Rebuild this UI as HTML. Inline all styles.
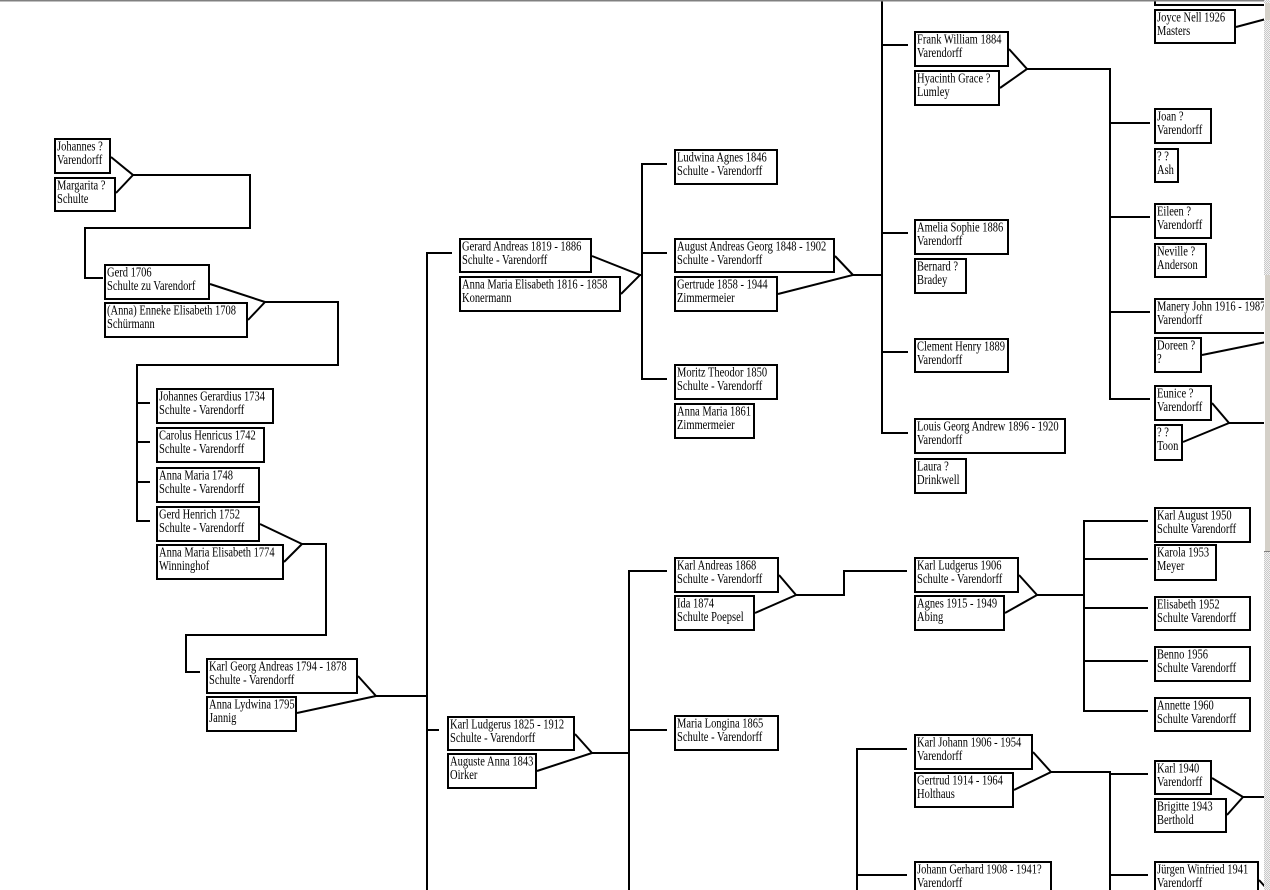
<!DOCTYPE html>
<html>
<head>
<meta charset="utf-8">
<style>
html,body{margin:0;padding:0;background:#fff;overflow:hidden;width:1270px;height:890px;}
svg{display:block;}
text{font-family:"Liberation Serif","DejaVu Serif",serif;font-size:14px;fill:#000;}
</style>
</head>
<body>
<svg width="1270" height="890" viewBox="0 0 1270 890" xmlns="http://www.w3.org/2000/svg">
<rect x="0" y="0" width="1270" height="890" fill="#fff"/>

<!-- connectors -->
<g fill="none" stroke="#000" stroke-width="2">
<path d="M111,157 L133,175 L116,193 M133,175 H250 V228 H85 V278 H103"/>
<path d="M210,284 L265,302 L248,320 M265,302 H338 V365 H136 M137,364 V522 M137,403 H150 M137,442 H150 M137,482 H150 M137,521 H150"/>
<path d="M260,524 L302,544 L284,562 M302,544 H326 V635 H186 V672 H200"/>
<path d="M358,676 L376,696 L297,713 M376,696 H427 M427,252 V890 M427,253 H452 M427,730 H439"/>
<path d="M592,256 L640,275 L621,294 M640,275 H642 M642,163 V380 M642,164 H667 M642,253 H667 M642,379 H667"/>
<path d="M575,734 L592,753 L537,771 M592,753 H629 M629,570 V890 M629,571 H667 M629,730 H667"/>
<path d="M835,256 L853,275 L778,294 M853,275 H882 M882,0 V434 M882,45 H908 M882,233 H908 M882,352 H908 M882,433 H908"/>
<path d="M779,575 L796,595 L755,613 M796,595 H844 V571 H907"/>
<path d="M1009,49 L1027,69 L1000,88 M1027,69 H1110 M1110,68 V400 M1110,123 H1150 M1110,217 H1150 M1110,312 H1150 M1110,399 H1150"/>
<path d="M1019,575 L1037,595 L1005,613 M1037,595 H1084 M1084,520 V712 M1084,521 H1148 M1084,559 H1148 M1084,608 H1148 M1084,661 H1148 M1084,711 H1148"/>
<path d="M1033,752 L1051,772 L1014,790 M1051,772 H1110 M1110,771 V890 M1110,774 H1148 M1110,875 H1148"/>
<path d="M857,748 V890 M857,749 H907 M857,875 H907"/>
<path d="M1212,403 L1229,423 L1183,442 M1229,423 H1266"/>
<path d="M1212,778 L1243,797 L1227,815 M1243,797 H1266"/>
<path d="M1236,27 L1266,19 M1202,355 L1266,342 M1259,880 L1268,890"/>
</g>

<!-- boxes -->
<g fill="#fff" stroke="#000" stroke-width="2">
<rect x="55" y="139" width="55" height="34"/>
<rect x="55" y="178" width="60" height="33"/>
<rect x="105" y="265" width="104" height="34"/>
<rect x="105" y="303" width="142" height="34"/>
<rect x="157" y="389" width="116" height="34"/>
<rect x="157" y="428" width="107" height="34"/>
<rect x="157" y="468" width="102" height="34"/>
<rect x="157" y="507" width="102" height="34"/>
<rect x="157" y="545" width="126" height="34"/>
<rect x="207" y="659" width="150" height="34"/>
<rect x="207" y="697" width="89" height="34"/>
<rect x="460" y="239" width="131" height="33"/>
<rect x="460" y="277" width="160" height="34"/>
<rect x="448" y="717" width="126" height="33"/>
<rect x="448" y="754" width="88" height="34"/>
<rect x="675" y="150" width="102" height="34"/>
<rect x="675" y="239" width="159" height="33"/>
<rect x="675" y="277" width="102" height="34"/>
<rect x="675" y="365" width="102" height="34"/>
<rect x="675" y="404" width="79" height="34"/>
<rect x="675" y="558" width="103" height="34"/>
<rect x="675" y="596" width="79" height="34"/>
<rect x="675" y="716" width="103" height="34"/>
<rect x="915" y="32" width="93" height="34"/>
<rect x="915" y="71" width="84" height="34"/>
<rect x="915" y="220" width="93" height="34"/>
<rect x="915" y="259" width="51" height="34"/>
<rect x="915" y="339" width="93" height="33"/>
<rect x="915" y="419" width="150" height="34"/>
<rect x="915" y="459" width="51" height="34"/>
<rect x="915" y="558" width="103" height="34"/>
<rect x="915" y="596" width="89" height="34"/>
<rect x="915" y="735" width="117" height="34"/>
<rect x="915" y="773" width="98" height="34"/>
<rect x="915" y="862" width="136" height="40"/>
<rect x="1155" y="-40" width="111" height="45"/>
<rect x="1155" y="10" width="80" height="33"/>
<rect x="1155" y="109" width="56" height="34"/>
<rect x="1155" y="149" width="23" height="33"/>
<rect x="1155" y="204" width="56" height="34"/>
<rect x="1155" y="244" width="51" height="33"/>
<rect x="1155" y="299" width="120" height="34"/>
<rect x="1155" y="338" width="46" height="34"/>
<rect x="1155" y="386" width="56" height="34"/>
<rect x="1155" y="425" width="27" height="35"/>
<rect x="1155" y="508" width="95" height="34"/>
<rect x="1155" y="545" width="61" height="35"/>
<rect x="1155" y="597" width="95" height="33"/>
<rect x="1155" y="647" width="95" height="34"/>
<rect x="1155" y="698" width="95" height="33"/>
<rect x="1155" y="761" width="56" height="33"/>
<rect x="1155" y="799" width="71" height="33"/>
<rect x="1155" y="862" width="103" height="40"/>
</g>

<!-- labels -->
<g>
<text transform="translate(57,150.5) scale(.75,1)">Johannes ?</text>
<text transform="translate(57,164) scale(.75,1)">Varendorff</text>
<text transform="translate(57,189.5) scale(.75,1)">Margarita ?</text>
<text transform="translate(57,203) scale(.75,1)">Schulte</text>
<text transform="translate(107,276.5) scale(.75,1)">Gerd 1706</text>
<text transform="translate(107,290) scale(.75,1)">Schulte zu Varendorf</text>
<text transform="translate(107,314.5) scale(.75,1)">(Anna) Enneke Elisabeth 1708</text>
<text transform="translate(107,328) scale(.75,1)">Schürmann</text>
<text transform="translate(159,400.5) scale(.75,1)">Johannes Gerardius 1734</text>
<text transform="translate(159,414) scale(.75,1)">Schulte - Varendorff</text>
<text transform="translate(159,439.5) scale(.75,1)">Carolus Henricus 1742</text>
<text transform="translate(159,453) scale(.75,1)">Schulte - Varendorff</text>
<text transform="translate(159,479.5) scale(.75,1)">Anna Maria 1748</text>
<text transform="translate(159,493) scale(.75,1)">Schulte - Varendorff</text>
<text transform="translate(159,518.5) scale(.75,1)">Gerd Henrich 1752</text>
<text transform="translate(159,532) scale(.75,1)">Schulte - Varendorff</text>
<text transform="translate(159,556.5) scale(.75,1)">Anna Maria Elisabeth 1774</text>
<text transform="translate(159,570) scale(.75,1)">Winninghof</text>
<text transform="translate(209,670.5) scale(.75,1)">Karl Georg Andreas 1794 - 1878</text>
<text transform="translate(209,684) scale(.75,1)">Schulte - Varendorff</text>
<text transform="translate(209,708.5) scale(.75,1)">Anna Lydwina 1795</text>
<text transform="translate(209,722) scale(.75,1)">Jannig</text>
<text transform="translate(462,250.5) scale(.75,1)">Gerard Andreas 1819 - 1886</text>
<text transform="translate(462,264) scale(.75,1)">Schulte - Varendorff</text>
<text transform="translate(462,288.5) scale(.75,1)">Anna Maria Elisabeth 1816 - 1858</text>
<text transform="translate(462,302) scale(.75,1)">Konermann</text>
<text transform="translate(450,728.5) scale(.75,1)">Karl Ludgerus 1825 - 1912</text>
<text transform="translate(450,742) scale(.75,1)">Schulte - Varendorff</text>
<text transform="translate(450,765.5) scale(.75,1)">Auguste Anna 1843</text>
<text transform="translate(450,779) scale(.75,1)">Oirker</text>
<text transform="translate(677,161.5) scale(.75,1)">Ludwina Agnes 1846</text>
<text transform="translate(677,175) scale(.75,1)">Schulte - Varendorff</text>
<text transform="translate(677,250.5) scale(.75,1)">August Andreas Georg 1848 - 1902</text>
<text transform="translate(677,264) scale(.75,1)">Schulte - Varendorff</text>
<text transform="translate(677,288.5) scale(.75,1)">Gertrude 1858 - 1944</text>
<text transform="translate(677,302) scale(.75,1)">Zimmermeier</text>
<text transform="translate(677,376.5) scale(.75,1)">Moritz Theodor 1850</text>
<text transform="translate(677,390) scale(.75,1)">Schulte - Varendorff</text>
<text transform="translate(677,415.5) scale(.75,1)">Anna Maria 1861</text>
<text transform="translate(677,429) scale(.75,1)">Zimmermeier</text>
<text transform="translate(677,569.5) scale(.75,1)">Karl Andreas 1868</text>
<text transform="translate(677,583) scale(.75,1)">Schulte - Varendorff</text>
<text transform="translate(677,607.5) scale(.75,1)">Ida 1874</text>
<text transform="translate(677,621) scale(.75,1)">Schulte Poepsel</text>
<text transform="translate(677,727.5) scale(.75,1)">Maria Longina 1865</text>
<text transform="translate(677,741) scale(.75,1)">Schulte - Varendorff</text>
<text transform="translate(917,43.5) scale(.75,1)">Frank William 1884</text>
<text transform="translate(917,57) scale(.75,1)">Varendorff</text>
<text transform="translate(917,82.5) scale(.75,1)">Hyacinth Grace ?</text>
<text transform="translate(917,96) scale(.75,1)">Lumley</text>
<text transform="translate(917,231.5) scale(.75,1)">Amelia Sophie 1886</text>
<text transform="translate(917,245) scale(.75,1)">Varendorff</text>
<text transform="translate(917,270.5) scale(.75,1)">Bernard ?</text>
<text transform="translate(917,284) scale(.75,1)">Bradey</text>
<text transform="translate(917,350.5) scale(.75,1)">Clement Henry 1889</text>
<text transform="translate(917,364) scale(.75,1)">Varendorff</text>
<text transform="translate(917,430.5) scale(.75,1)">Louis Georg Andrew 1896 - 1920</text>
<text transform="translate(917,444) scale(.75,1)">Varendorff</text>
<text transform="translate(917,470.5) scale(.75,1)">Laura ?</text>
<text transform="translate(917,484) scale(.75,1)">Drinkwell</text>
<text transform="translate(917,569.5) scale(.75,1)">Karl Ludgerus 1906</text>
<text transform="translate(917,583) scale(.75,1)">Schulte - Varendorff</text>
<text transform="translate(917,607.5) scale(.75,1)">Agnes 1915 - 1949</text>
<text transform="translate(917,621) scale(.75,1)">Abing</text>
<text transform="translate(917,746.5) scale(.75,1)">Karl Johann 1906 - 1954</text>
<text transform="translate(917,760) scale(.75,1)">Varendorff</text>
<text transform="translate(917,784.5) scale(.75,1)">Gertrud 1914 - 1964</text>
<text transform="translate(917,798) scale(.75,1)">Holthaus</text>
<text transform="translate(917,873.5) scale(.75,1)">Johann Gerhard 1908 - 1941?</text>
<text transform="translate(917,887) scale(.75,1)">Varendorff</text>
<text transform="translate(1157,21.5) scale(.75,1)">Joyce Nell 1926</text>
<text transform="translate(1157,35) scale(.75,1)">Masters</text>
<text transform="translate(1157,120.5) scale(.75,1)">Joan ?</text>
<text transform="translate(1157,134) scale(.75,1)">Varendorff</text>
<text transform="translate(1157,160.5) scale(.75,1)">? ?</text>
<text transform="translate(1157,174) scale(.75,1)">Ash</text>
<text transform="translate(1157,215.5) scale(.75,1)">Eileen ?</text>
<text transform="translate(1157,229) scale(.75,1)">Varendorff</text>
<text transform="translate(1157,255.5) scale(.75,1)">Neville ?</text>
<text transform="translate(1157,269) scale(.75,1)">Anderson</text>
<text transform="translate(1157,310.5) scale(.75,1)">Manery John 1916 - 1987</text>
<text transform="translate(1157,324) scale(.75,1)">Varendorff</text>
<text transform="translate(1157,349.5) scale(.75,1)">Doreen ?</text>
<text transform="translate(1157,363) scale(.75,1)">?</text>
<text transform="translate(1157,397.5) scale(.75,1)">Eunice ?</text>
<text transform="translate(1157,411) scale(.75,1)">Varendorff</text>
<text transform="translate(1157,436.5) scale(.75,1)">? ?</text>
<text transform="translate(1157,450) scale(.75,1)">Toon</text>
<text transform="translate(1157,519.5) scale(.75,1)">Karl August 1950</text>
<text transform="translate(1157,533) scale(.75,1)">Schulte Varendorff</text>
<text transform="translate(1157,556.5) scale(.75,1)">Karola 1953</text>
<text transform="translate(1157,570) scale(.75,1)">Meyer</text>
<text transform="translate(1157,608.5) scale(.75,1)">Elisabeth 1952</text>
<text transform="translate(1157,622) scale(.75,1)">Schulte Varendorff</text>
<text transform="translate(1157,658.5) scale(.75,1)">Benno 1956</text>
<text transform="translate(1157,672) scale(.75,1)">Schulte Varendorff</text>
<text transform="translate(1157,709.5) scale(.75,1)">Annette 1960</text>
<text transform="translate(1157,723) scale(.75,1)">Schulte Varendorff</text>
<text transform="translate(1157,772.5) scale(.75,1)">Karl 1940</text>
<text transform="translate(1157,786) scale(.75,1)">Varendorff</text>
<text transform="translate(1157,810.5) scale(.75,1)">Brigitte 1943</text>
<text transform="translate(1157,824) scale(.75,1)">Berthold</text>
<text transform="translate(1157,873.5) scale(.75,1)">Jürgen Winfried 1941</text>
<text transform="translate(1157,887) scale(.75,1)">Varendorff</text>
</g>

<!-- top border line -->
<rect x="0" y="0" width="1270" height="1.5" fill="#808080"/>

<!-- scrollbar -->
<defs>
<pattern id="chk" width="2" height="2" patternUnits="userSpaceOnUse">
<rect width="2" height="2" fill="#f2f2f2"/>
<rect width="1" height="1" fill="#c8c8c8"/>
<rect x="1" y="1" width="1" height="1" fill="#c8c8c8"/>
</pattern>
</defs>
<rect x="1264" y="0" width="6" height="890" fill="url(#chk)"/>
<rect x="1264" y="3" width="6" height="17" fill="#d4d0c8"/>
<rect x="1264" y="3" width="1" height="17" fill="#fff"/>
<rect x="1264" y="275" width="6" height="277" fill="#d4d0c8"/>
<rect x="1264" y="275" width="1" height="277" fill="#fff"/>
<rect x="1264" y="551" width="6" height="1" fill="#808080"/>
</svg>
</body>
</html>
